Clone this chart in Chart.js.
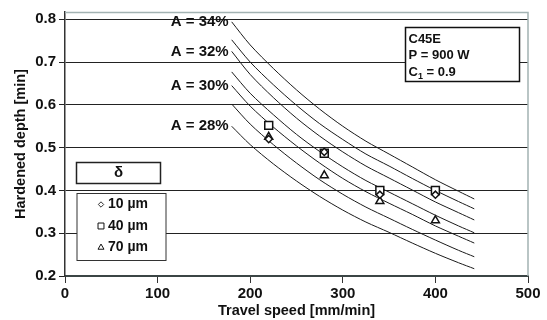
<!DOCTYPE html>
<html>
<head>
<meta charset="utf-8">
<script src="https://cdn.jsdelivr.net/npm/chart.js@4.4.1/dist/chart.umd.min.js"></script>
<style>
  html, body { margin: 0; padding: 0; background: #fff; }
  #wrap { width: 547px; height: 320px; }
</style>
</head>
<body>
<div id="wrap"><canvas id="hardChart" width="547" height="320"></canvas></div>
<script>
// ==== DATA ====
const speed = [180, 200, 225, 250, 275, 300, 325, 350, 375, 400, 425, 442];
const curveA34 = [0.794, 0.740, 0.685, 0.635, 0.590, 0.550, 0.515, 0.485, 0.455, 0.425, 0.398, 0.380];
const curveA33 = [0.752, 0.700, 0.647, 0.599, 0.556, 0.519, 0.485, 0.457, 0.428, 0.400, 0.374, 0.357];
const curveA32 = [0.725, 0.671, 0.617, 0.569, 0.527, 0.490, 0.457, 0.429, 0.401, 0.373, 0.348, 0.331];
const curveA31 = [0.677, 0.627, 0.577, 0.531, 0.491, 0.455, 0.423, 0.396, 0.369, 0.342, 0.317, 0.301];
const curveA30 = [0.645, 0.597, 0.548, 0.504, 0.464, 0.428, 0.397, 0.370, 0.344, 0.317, 0.293, 0.277];
const curveA29 = [0.602, 0.555, 0.507, 0.464, 0.425, 0.391, 0.361, 0.335, 0.309, 0.284, 0.260, 0.245];
const curveA28 = [0.550, 0.507, 0.462, 0.422, 0.386, 0.354, 0.326, 0.302, 0.277, 0.253, 0.231, 0.217];
const curveLabels = ['A = 34%', '', 'A = 32%', '', 'A = 30%', '', 'A = 28%'];

const testSpeed = [220, 280, 340, 400];
const depth10 = [0.520, 0.490, 0.390, 0.390];
const depth40 = [0.552, 0.487, 0.400, 0.400];
const depth70 = [0.525, 0.435, 0.375, 0.330];
const layerNames = ['10 µm', '40 µm', '70 µm'];

const yTicks = [0.2, 0.3, 0.4, 0.5, 0.6, 0.7, 0.8];

const FONT = '"Liberation Sans", Arial, sans-serif';
const INK = '#111';

// ==== DATASETS ====
const curves = [curveA34, curveA33, curveA32, curveA31, curveA30, curveA29, curveA28];
const markerStyles = ['rectRot', 'rect', 'triangle'];
const markerRadius = [3.6, 5.6, 4.6];

const datasets = [];
[depth10, depth40, depth70].forEach((vals, i) => {
  datasets.push({
    label: layerNames[i],
    data: testSpeed.map((x, j) => ({ x: x, y: vals[j] })),
    showLine: false,
    pointStyle: markerStyles[i],
    pointRadius: markerRadius[i],
    pointBorderColor: INK,
    pointBackgroundColor: '#fff',
    pointBorderWidth: 1.5,
    order: 0
  });
});
curves.forEach((vals, i) => {
  datasets.push({
    label: curveLabels[i],
    data: speed.map((x, j) => ({ x: x, y: vals[j] })),
    borderColor: '#1a1a1a',
    borderWidth: 1,
    pointRadius: 0,
    tension: 0.3,
    fill: false,
    order: 1
  });
});

// ==== ANNOTATIONS (curve labels, legend, info box, frame) ====
const annotations = {
  id: 'annotations',
  beforeDatasetsDraw(chart) {
    const { ctx, chartArea: a } = chart;
    ctx.save();
    ctx.strokeStyle = '#a3b3b3';
    ctx.lineWidth = 1.5;
    ctx.beginPath();
    ctx.moveTo(a.left, a.top + 0.5);
    ctx.lineTo(a.right, a.top + 0.5);
    ctx.lineTo(a.right, a.bottom);
    ctx.stroke();
    ctx.restore();
  },
  afterDatasetsDraw(chart) {
    const { ctx, chartArea: a, scales } = chart;
    ctx.save();
    ctx.fillStyle = INK;
    ctx.textBaseline = 'middle';

    // curve labels at start of each curve
    ctx.font = 'bold 15px ' + FONT;
    ctx.textAlign = 'right';
    curves.forEach((vals, i) => {
      if (!curveLabels[i]) return;
      const px = scales.x.getPixelForValue(speed[0]) - 3;
      const py = scales.y.getPixelForValue(vals[0]);
      ctx.fillText(curveLabels[i], px, py);
    });

    // delta box
    ctx.strokeStyle = '#222';
    ctx.lineWidth = 1.5;
    ctx.fillStyle = '#fff';
    const dx = a.left + 11.5, dy = 162.5;
    ctx.fillRect(dx, dy, 84, 21);
    ctx.strokeRect(dx, dy, 84, 21);
    ctx.fillStyle = INK;
    ctx.textAlign = 'center';
    ctx.font = 'bold 15px ' + FONT;
    ctx.fillText('δ', dx + 42, dy + 10.5);

    // legend box
    const lx = a.left + 12, ly = 193.5;
    ctx.fillStyle = '#fff';
    ctx.lineWidth = 1;
    ctx.strokeStyle = '#333';
    ctx.fillRect(lx, ly, 89, 67);
    ctx.strokeRect(lx, ly, 89, 67);
    ctx.font = 'bold 14px ' + FONT;
    ctx.textAlign = 'left';
    layerNames.forEach((name, i) => {
      const yy = ly + 11 + i * 21.5;
      Chart.helpers.drawPoint(ctx, {
        pointStyle: markerStyles[i], radius: markerRadius[i] * 0.75, rotation: 0, borderWidth: 1.5
      }, lx + 24, yy);
      ctx.fillStyle = INK;
      ctx.fillText(name, lx + 31, yy);
      ctx.fillStyle = '#fff';
      ctx.strokeStyle = INK;
    });

    // info box
    const bx = a.right - 122.5, by = a.top + 15.5;
    ctx.fillStyle = '#fff';
    ctx.strokeStyle = '#111';
    ctx.lineWidth = 1.5;
    ctx.fillRect(bx, by, 114, 54);
    ctx.strokeRect(bx, by, 114, 54);
    ctx.fillStyle = INK;
    ctx.font = 'bold 13px ' + FONT;
    ctx.textAlign = 'left';
    ctx.fillText('C45E', bx + 3, by + 12);
    ctx.fillText('P = 900 W', bx + 3, by + 28);
    ctx.fillText('C', bx + 3, by + 45);
    const cw = ctx.measureText('C').width;
    ctx.font = 'bold 9px ' + FONT;
    ctx.fillText('1', bx + 3 + cw, by + 49);
    const sw = ctx.measureText('1').width;
    ctx.font = 'bold 13px ' + FONT;
    ctx.fillText(' = 0.9', bx + 3 + cw + sw, by + 45);
    ctx.restore();
  }
};

// ==== CHART ====
new Chart(document.getElementById('hardChart').getContext('2d'), {
  type: 'line',
  data: { datasets: datasets },
  options: {
    responsive: false,
    animation: false,
    events: [],
    layout: { padding: { top: 12, right: 19, left: 0, bottom: 0 } },
    plugins: { legend: { display: false }, tooltip: { enabled: false } },
    scales: {
      x: {
        type: 'linear',
        min: 0,
        max: 500,
        ticks: { stepSize: 100, color: INK, padding: 2, font: { family: FONT, size: 15, weight: 'bold' } },
        grid: { drawOnChartArea: false, drawTicks: true, tickLength: 7, color: '#333' },
        border: { color: '#3b4545', width: 2 },
        title: {
          display: true, text: 'Travel speed [mm/min]', color: INK,
          font: { family: FONT, size: 14.5, weight: 'bold' }, padding: { top: 0, bottom: 0 }
        },
        afterFit(s) { s.height = 44; }
      },
      y: {
        min: 0.2,
        max: 0.817,
        afterBuildTicks(s) { s.ticks = yTicks.map(v => ({ value: v })); },
        ticks: {
          color: INK, padding: 3, font: { family: FONT, size: 15, weight: 'bold' },
          callback: v => v.toFixed(1)
        },
        grid: { color: '#222', lineWidth: 1, tickLength: 6 },
        border: { color: '#333', width: 1.5 },
        title: {
          display: true, text: 'Hardened depth [min]', color: INK,
          font: { family: FONT, size: 14.5, weight: 'bold' }, padding: { top: 12, bottom: 0 }
        },
        afterFit(s) { s.width = 65; }
      }
    }
  },
  plugins: [annotations]
});
</script>
</body>
</html>
